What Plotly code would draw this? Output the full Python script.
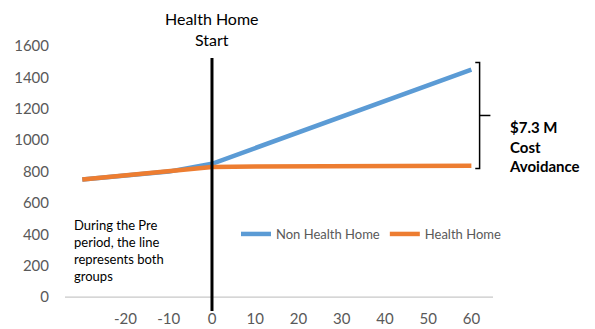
import plotly.graph_objects as go

# Months relative to Health Home start, and cost per member per month
months_pre = [-30, -20, -10, 0]
months_post = [0, 10, 20, 30, 40, 50, 60]

non_hh_pre = [750, 775, 800, 850]
non_hh_post = [850, 950, 1050, 1150, 1250, 1350, 1450]
hh_pre = [750, 775, 805, 830]
hh_post = [830, 832, 833, 834, 835, 837, 838]

x_ticks = [-20, -10, 0, 10, 20, 30, 40, 50, 60]
x_tick_labels = ["-20", "-10", "0", "10", "20", "30", "40", "50", "60"]
y_ticks = [0, 200, 400, 600, 800, 1000, 1200, 1400, 1600]

BLUE = "#5B9BD5"
ORANGE = "#ED7D31"
GREY = "#595959"
FONT = "Lato"

W, H = 595, 329
L, R, T, B = 65, 102, 46, 31
PW, PH = W - L - R, H - T - B


def px(x):
    return (x - L) / PW


def py(y):
    return (H - B - y) / PH


fig = go.Figure()
fig.add_trace(go.Scatter(
    x=months_pre + months_post[1:], y=non_hh_pre + non_hh_post[1:],
    mode="lines", name="Non Health Home",
    line=dict(color=BLUE, width=4.5),
))
fig.add_trace(go.Scatter(
    x=months_pre + months_post[1:], y=hh_pre + hh_post[1:],
    mode="lines", name="Health Home",
    line=dict(color=ORANGE, width=4.5),
))

# Horizontal axis line at zero
fig.add_shape(type="line", xref="paper", yref="y", x0=0, x1=1, y0=0, y1=0,
              line=dict(color="#C8C8C8", width=1.2), layer="below")

# Health Home start marker
fig.add_shape(type="line", xref="x", yref="paper", x0=0, x1=0,
              y0=py(311), y1=py(58), line=dict(color="black", width=3))

# Bracket spanning the gap between the two groups at month 60
top = non_hh_post[-1] + 45
bot = hh_post[-1] - 18
mid = (top + bot) / 2
fig.add_shape(type="path", xref="x", yref="y",
              path=f"M 60.9,{top} L 61.9,{top} L 61.9,{bot} L 60.9,{bot}",
              line=dict(color="black", width=1.5))
fig.add_shape(type="line", xref="x", yref="y", x0=61.9, x1=64.4,
              y0=mid, y1=mid, line=dict(color="black", width=1.5))

fig.add_annotation(text="Health Home<br>Start", xref="x", yref="paper",
                   x=0, y=py(29), xanchor="center", yanchor="middle",
                   showarrow=False, align="center",
                   font=dict(family=FONT, size=16, color="black"))
fig.add_annotation(text="<b>$7.3 M<br>Cost<br>Avoidance</b>", xref="paper", yref="paper",
                   x=px(507), y=py(146), xanchor="left", yanchor="middle",
                   showarrow=False, align="left",
                   font=dict(family=FONT, size=15, color="black"))
fig.add_annotation(text="During the Pre<br>period, the line<br>represents both<br>groups",
                   xref="paper", yref="paper",
                   x=px(72), y=py(250), xanchor="left", yanchor="middle",
                   showarrow=False, align="left",
                   font=dict(family=FONT, size=13, color="black"))

fig.update_layout(
    width=W, height=H,
    margin=dict(l=L, r=R, t=T, b=B),
    plot_bgcolor="white", paper_bgcolor="white",
    font=dict(family=FONT, color=GREY),
    showlegend=True,
    legend=dict(orientation="h", x=px(236), y=py(234), xanchor="left", yanchor="middle",
                font=dict(family=FONT, size=13, color=GREY),
                itemwidth=30, tracegroupgap=0, bgcolor="rgba(0,0,0,0)"),
    xaxis=dict(range=[-34, 65], tickvals=x_ticks, ticktext=x_tick_labels,
               showgrid=False, zeroline=False, ticks="", showline=False,
               ticklabelstandoff=10, automargin=False,
               tickfont=dict(family=FONT, size=15, color=GREY)),
    yaxis=dict(range=[-5, 1600], tickvals=y_ticks, showgrid=False, zeroline=False,
               showline=False, ticks="",
               ticklabelstandoff=15, automargin=False,
               tickfont=dict(family=FONT, size=15, color=GREY)),
)

fig.write_html("out.html")
